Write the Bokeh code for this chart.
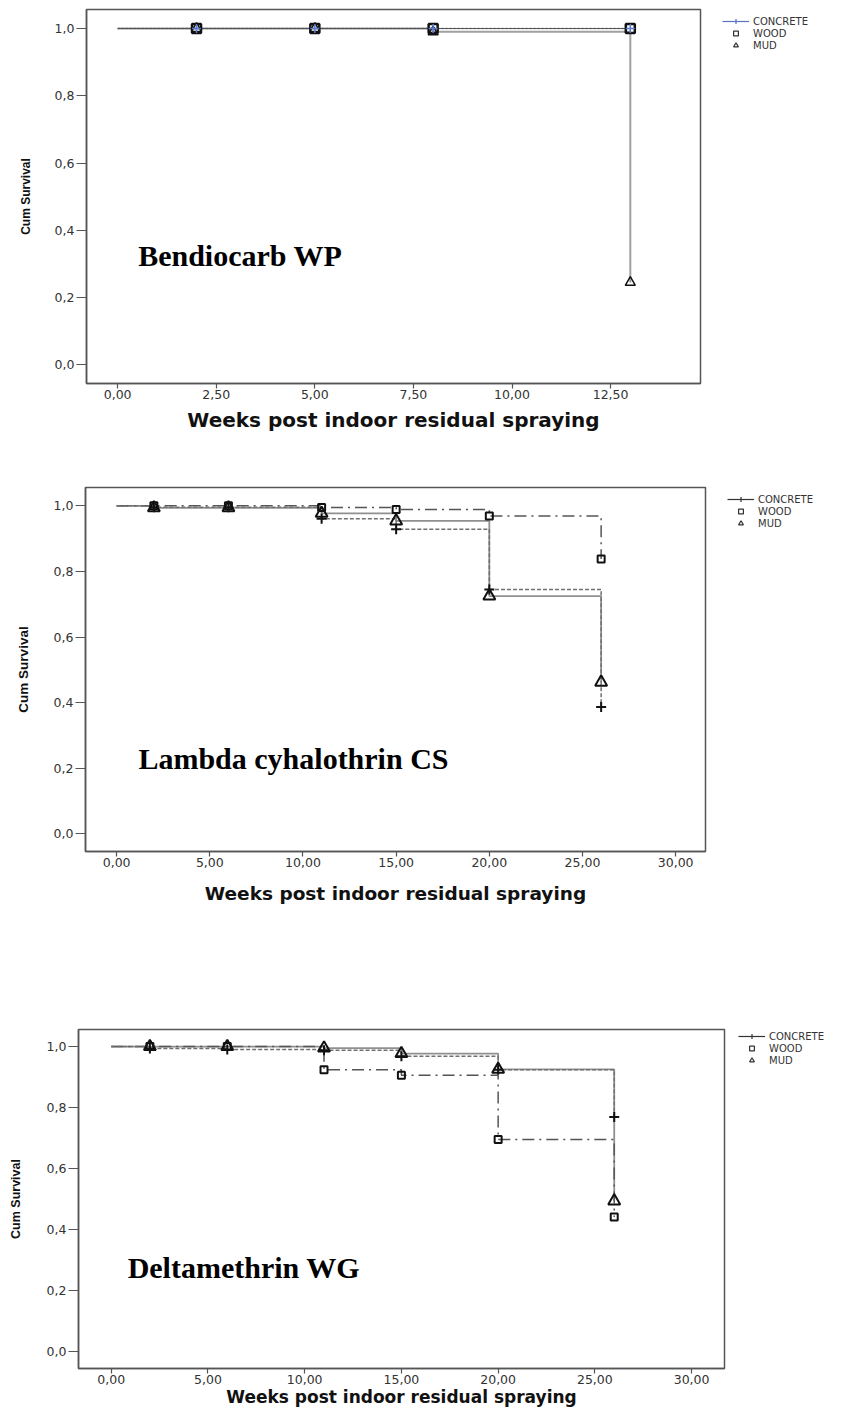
import numpy as np
from bokeh.plotting import figure
from bokeh.models import (Range1d, FixedTicker, CustomJSTickFormatter, Label,
                          Legend, LegendItem)
from bokeh.layouts import row
from bokeh.embed import file_html
from bokeh.resources import INLINE

# ---------------- data ----------------
groups = ["CONCRETE", "WOOD", "MUD"]
y_label = "Cum Survival"
x_label = "Weeks post indoor residual spraying"
y_ticks = [0.0, 0.2, 0.4, 0.6, 0.8, 1.0]
y_tick_labels = ["0,0", "0,2", "0,4", "0,6", "0,8", "1,0"]

# Panel 1: Bendiocarb WP
bend_title = "Bendiocarb WP"
bend_x_ticks = [0.0, 2.5, 5.0, 7.5, 10.0, 12.5]
bend_x_labels = ["0,00", "2,50", "5,00", "7,50", "10,00", "12,50"]
bend_obs_weeks = [2, 5, 8, 13]
bend_concrete_t = [0, 13]
bend_concrete_s = [1.0, 1.0]
bend_wood_t = [0, 13]
bend_wood_s = [1.0, 1.0]
bend_mud_t = [0, 8, 13]
bend_mud_s = [1.0, 0.99, 0.245]

# Panel 2: Lambda cyhalothrin CS
lam_title = "Lambda cyhalothrin CS"
lam_x_ticks = [0, 5, 10, 15, 20, 25, 30]
lam_x_labels = ["0,00", "5,00", "10,00", "15,00", "20,00", "25,00", "30,00"]
lam_obs_weeks = [2, 6, 11, 15, 20, 26]
lam_concrete_t = [0, 2, 11, 15, 20, 26]
lam_concrete_s = [1.0, 0.996, 0.961, 0.929, 0.745, 0.387]
lam_wood_t = [0, 11, 15, 20, 26]
lam_wood_s = [1.0, 0.995, 0.989, 0.969, 0.838]
lam_mud_t = [0, 2, 11, 15, 20, 26]
lam_mud_s = [1.0, 0.994, 0.977, 0.954, 0.725, 0.462]

# Panel 3: Deltamethrin WG
del_title = "Deltamethrin WG"
del_x_ticks = [0, 5, 10, 15, 20, 25, 30]
del_x_labels = ["0,00", "5,00", "10,00", "15,00", "20,00", "25,00", "30,00"]
del_obs_weeks = [2, 6, 11, 15, 20, 26]
del_concrete_t = [0, 2, 6, 11, 15, 20, 26]
del_concrete_s = [1.0, 0.994, 0.990, 0.988, 0.968, 0.924, 0.769]
del_wood_t = [0, 11, 15, 20, 26]
del_wood_s = [1.0, 0.924, 0.906, 0.695, 0.440]
del_mud_t = [0, 11, 15, 20, 26]
del_mud_s = [1.0, 0.995, 0.977, 0.925, 0.493]


def surv_at(t_arr, s_arr, times):
    t_arr = np.asarray(t_arr, dtype=float)
    s_arr = np.asarray(s_arr, dtype=float)
    idx = np.searchsorted(t_arr, np.asarray(times, dtype=float), side="right") - 1
    return s_arr[idx].tolist()


def fmt(tick_vals, tick_labels):
    return CustomJSTickFormatter(args=dict(tv=tick_vals, tl=tick_labels), code="""
        for (let i = 0; i < tv.length; i++) {
            if (Math.abs(tv[i] - tick) < 1e-9) { return tl[i]; }
        }
        return "";
    """)


PAGE_W = 853


def make_panel(cfg):
    plot_w = cfg["frame_right"] + 2
    p = figure(width=plot_w, height=cfg["height"], output_backend="svg",
               toolbar_location=None,
               x_range=Range1d(*cfg["x_range"]), y_range=Range1d(*cfg["y_range"]),
               min_border_left=cfg["b_left"], min_border_right=2,
               min_border_top=cfg["b_top"], min_border_bottom=cfg["b_bottom"])
    p.grid.visible = False
    p.background_fill_color = "white"
    p.border_fill_color = "white"
    p.outline_line_color = "#555555"
    p.outline_line_width = 1.5

    for ax in (p.xaxis[0], p.yaxis[0]):
        ax.axis_line_color = "#555555"
        ax.axis_line_width = 1.5
        ax.major_tick_line_color = "#555555"
        ax.major_tick_line_width = 1.2
        ax.major_tick_in = 0
        ax.minor_tick_line_color = None
        ax.major_label_text_font = "DejaVu Sans"
        ax.major_label_text_font_size = "12.5px"
        ax.major_label_text_color = "#333333"

    p.xaxis.ticker = FixedTicker(ticks=cfg["x_ticks"])
    p.xaxis.formatter = fmt(cfg["x_ticks"], cfg["x_labels"])
    p.xaxis.major_tick_out = 5
    p.xaxis.major_label_standoff = 1
    p.xaxis.axis_label = x_label
    p.xaxis.axis_label_text_font = "DejaVu Sans"
    p.xaxis.axis_label_text_font_style = "bold"
    p.xaxis.axis_label_text_font_size = cfg["xlabel_size"]
    p.xaxis.axis_label_text_color = "#111111"
    p.xaxis.axis_label_standoff = cfg["xlabel_standoff"]

    p.yaxis.ticker = FixedTicker(ticks=y_ticks)
    p.yaxis.formatter = fmt(y_ticks, y_tick_labels)
    p.yaxis.major_tick_out = 10
    p.yaxis.major_label_standoff = 2
    p.yaxis.axis_label = y_label
    p.yaxis.axis_label_text_font = "Liberation Sans"
    p.yaxis.axis_label_text_font_style = "bold"
    p.yaxis.axis_label_text_font_size = cfg["ylabel_size"]
    p.yaxis.axis_label_text_color = "#111111"
    p.yaxis.axis_label_standoff = cfg["ylabel_standoff"]

    series = cfg["series"]  # (t, s) pairs in order CONCRETE, WOOD, MUD
    st = cfg["styles"]
    obs = cfg["obs"]
    for k in (2, 1, 0):
        t, s = series[k]
        p.step(t, s, mode="after", line_color=st[k]["color"],
               line_width=st[k]["width"], line_dash=st[k]["dash"])
    markers = ["cross", "square", "triangle"]
    for k in (2, 1, 0):
        t, s = series[k]
        ys = surv_at(t, s, obs)
        p.scatter(obs, ys, marker=markers[k], size=cfg["msize"][k],
                  line_color=cfg["mcolor"][k], line_width=cfg["mwidth"][k],
                  fill_color=None)

    lx, ly = cfg["title_pos"]
    p.add_layout(Label(x=lx, y=ly, text=cfg["title"], text_font="Liberation Serif",
                       text_font_style="bold", text_font_size="30px",
                       text_color="black", text_baseline="alphabetic"))

    # ---- legend in a small companion figure to the right ----
    leg_w = PAGE_W - plot_w
    lf = figure(width=leg_w, height=cfg["height"], output_backend="svg",
                toolbar_location=None, x_axis_type=None, y_axis_type=None,
                x_range=Range1d(*cfg["x_range"]), y_range=Range1d(*cfg["y_range"]),
                min_border_left=0, min_border_right=0,
                min_border_top=cfg["b_top"], min_border_bottom=cfg["b_bottom"])
    lf.grid.visible = False
    lf.outline_line_color = None
    lf.background_fill_color = "white"
    lf.border_fill_color = "white"
    t0, s0 = series[0]
    t1, s1 = series[1]
    t2, s2 = series[2]
    r_line = lf.step(t0, s0, mode="after", line_color=cfg["leg_line_color"],
                     line_width=1.2, visible=False)
    r_cross = lf.scatter(obs, surv_at(t0, s0, obs), marker="cross", size=11,
                         line_color=cfg["leg_line_color"], line_width=1.2, visible=False)
    r_sq = lf.scatter(obs, surv_at(t1, s1, obs), marker="square", size=10,
                      line_color="#333333", line_width=1.2, fill_color=None,
                      visible=False)
    r_tri = lf.scatter(obs, surv_at(t2, s2, obs), marker="triangle", size=9,
                       line_color="#333333", line_width=1.2, fill_color=None,
                       visible=False)
    frame_h = cfg["height"] - cfg["b_top"] - cfg["b_bottom"]
    leg_top = cfg["leg_top"] - cfg["b_top"]          # px below frame top
    n_rows = 3
    row_h = 12
    vy = frame_h - leg_top - n_rows * row_h
    vx = cfg["leg_left"] - plot_w
    legend = Legend(items=[LegendItem(label=groups[0], renderers=[r_line, r_cross]),
                           LegendItem(label=groups[1], renderers=[r_sq]),
                           LegendItem(label=groups[2], renderers=[r_tri])],
                    location=(vx, vy), glyph_width=27, glyph_height=row_h,
                    label_height=row_h, spacing=0, padding=0, label_standoff=4,
                    margin=0, inactive_fill_alpha=0,
                    label_text_font="DejaVu Sans", label_text_font_size="10px",
                    label_text_color="#333333",
                    border_line_color=None, background_fill_alpha=0)
    lf.add_layout(legend)
    return row(p, lf, spacing=0)


style_p1 = [dict(color="#555555", width=1.2, dash="solid"),
            dict(color="#888888", width=1.3, dash="2 2"),
            dict(color="#a0a0a0", width=2.0, dash="solid")]
style_p23 = [dict(color="#707070", width=1.5, dash="4 2"),
             dict(color="#555555", width=1.5, dash="12 5 2 5"),
             dict(color="#909090", width=1.8, dash="solid")]

p1 = make_panel(dict(
    height=440, b_left=86, frame_right=700, b_top=9, b_bottom=57,
    x_range=(-0.79, 14.78), y_range=(-0.0556, 1.0565),
    x_ticks=bend_x_ticks, x_labels=bend_x_labels,
    xlabel_size="20px", xlabel_standoff=6, ylabel_size="12px", ylabel_standoff=19,
    series=[(bend_concrete_t, bend_concrete_s), (bend_wood_t, bend_wood_s),
            (bend_mud_t, bend_mud_s)],
    styles=style_p1, obs=bend_obs_weeks,
    msize=[9, 9, 10], mcolor=["#5a7bd0", "#111111", "#111111"], mwidth=[1.5, 2.5, 1.5],
    leg_line_color="#5b72c0", leg_left=722, leg_top=15,
    title=bend_title, title_pos=(0.52, 0.325)))

p2 = make_panel(dict(
    height=530, b_left=85, frame_right=705, b_top=47, b_bottom=119,
    x_range=(-1.67, 31.6), y_range=(-0.054, 1.056),
    x_ticks=lam_x_ticks, x_labels=lam_x_labels,
    xlabel_size="18.5px", xlabel_standoff=13, ylabel_size="13.5px", ylabel_standoff=20,
    series=[(lam_concrete_t, lam_concrete_s), (lam_wood_t, lam_wood_s),
            (lam_mud_t, lam_mud_s)],
    styles=style_p23, obs=lam_obs_weeks,
    msize=[10, 7, 12], mcolor=["#111111", "#111111", "#111111"], mwidth=[2, 2, 2],
    leg_line_color="#333333", leg_left=727, leg_top=493 - 440,
    title=lam_title, title_pos=(1.17, 0.230)))

p3 = make_panel(dict(
    height=439, b_left=78, frame_right=724, b_top=59, b_bottom=40,
    x_range=(-1.69, 31.7), y_range=(-0.057, 1.056),
    x_ticks=del_x_ticks, x_labels=del_x_labels,
    xlabel_size="17px", xlabel_standoff=0, ylabel_size="12.5px", ylabel_standoff=21,
    series=[(del_concrete_t, del_concrete_s), (del_wood_t, del_wood_s),
            (del_mud_t, del_mud_s)],
    styles=style_p23, obs=del_obs_weeks,
    msize=[10, 7, 12], mcolor=["#111111", "#111111", "#111111"], mwidth=[2, 2, 2],
    leg_line_color="#333333", leg_left=738, leg_top=1031 - 970,
    title=del_title, title_pos=(0.85, 0.275)))

open("out.html", "w").write(file_html([p1, p2, p3], INLINE))
